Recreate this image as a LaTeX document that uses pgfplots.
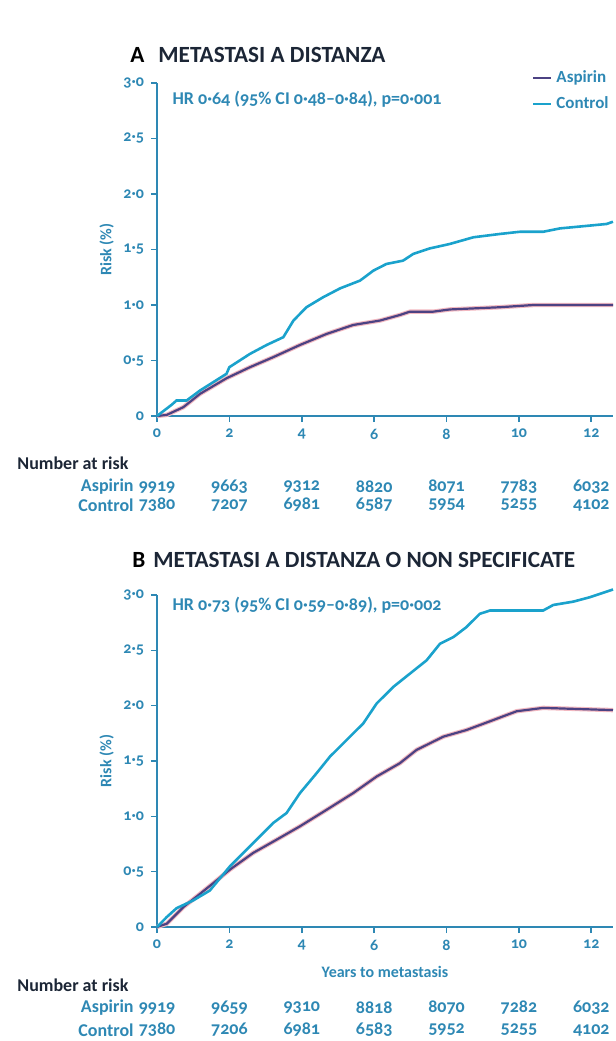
\documentclass[border=0pt]{standalone}
\usepackage{fontspec}
\setmainfont{Carlito}[Numbers=OldStyle]
\usepackage{pgfplots}
\pgfplotsset{compat=1.18}
\definecolor{axc}{HTML}{2E88B4}
\definecolor{ctrl}{HTML}{1AA2CC}
\definecolor{asp}{HTML}{4C4283}
\definecolor{halo}{HTML}{F2B8C0}
\definecolor{ttl}{HTML}{1C2636}

\pgfplotstableread{
t v
0 0
0.27 0.01
0.73 0.08
1.19 0.20
1.92 0.34
2.57 0.44
3.21 0.53
3.95 0.64
4.69 0.74
5.42 0.82
6.16 0.86
6.71 0.91
6.99 0.94
7.63 0.94
8.09 0.96
9.47 0.98
10.4 1.00
12.6 1.00
}\aspA
\pgfplotstableread{
t v
0 0
0.40 0.10
0.54 0.14
0.82 0.14
1.19 0.23
1.92 0.38
2.00 0.44
2.57 0.56
3.03 0.64
3.49 0.71
3.77 0.86
4.13 0.98
4.59 1.07
5.06 1.15
5.61 1.22
5.98 1.31
6.34 1.37
6.80 1.40
7.08 1.46
7.54 1.51
8.09 1.55
8.74 1.61
9.47 1.64
10.03 1.66
10.67 1.66
11.13 1.69
11.78 1.71
12.42 1.73
12.6 1.75
}\ctrlA
\pgfplotstableread{
t v
0 0
0.27 0.03
0.73 0.18
1.19 0.30
2.02 0.52
2.66 0.67
3.31 0.79
3.95 0.91
4.69 1.06
5.42 1.21
6.07 1.36
6.71 1.48
7.17 1.60
7.91 1.72
8.55 1.78
9.29 1.87
9.94 1.95
10.67 1.98
12.6 1.96
}\aspB
\pgfplotstableread{
t v
0 0
0.27 0.09
0.54 0.17
1.00 0.24
1.46 0.33
2.02 0.55
2.57 0.73
3.21 0.94
3.58 1.03
3.95 1.21
4.41 1.39
4.78 1.54
5.24 1.69
5.70 1.84
6.07 2.02
6.53 2.17
6.99 2.29
7.45 2.41
7.82 2.56
8.19 2.62
8.55 2.71
8.92 2.83
9.20 2.86
10.67 2.86
10.95 2.91
11.50 2.94
11.96 2.98
12.6 3.05
}\ctrlB

\pgfplotsset{km/.style={
  scale only axis, width=228pt, xmin=0, xmax=12.6, ymin=0, ymax=3,
  axis x line*=bottom, axis y line*=left,
  axis line style={axc, line width=0.9pt},
  xtick={0,2,...,12}, ytick={0,0.5,1,1.5,2,2.5,3},
  yticklabels={0,0·5,1·0,1·5,2·0,2·5,3·0},
  tick style={axc, line width=0.8pt}, tick align=outside,
  major tick length=3pt,
  /pgf/number format/assume math mode=true,
  ticklabel style={font=\bfseries\fontsize{8}{9}\selectfont, text=axc},
  ylabel={Risk (\%)},
  ylabel style={font=\bfseries\fontsize{8}{9}\selectfont, text=axc, yshift=-2pt},
  xlabel style={font=\bfseries\fontsize{8}{9}\selectfont, text=axc, yshift=-1pt},
  clip=false,
  legend cell align=left,
  legend image code/.code={\draw[#1] (0pt,0pt) -- (9pt,0pt);},
}}
\tikzset{nar/.style={font=\bfseries\fontsize{9}{10}\selectfont, text=axc}}

\begin{document}
\begin{tikzpicture}
\path[use as bounding box] (0,0) rectangle (308pt,-520.5pt);

% Panel A
\node[anchor=west, inner sep=0pt, font=\bfseries\fontsize{11.6}{13}\selectfont, text=ttl] at (65pt,-27.5pt) {\textcolor{black}{A}\hspace{7pt}METASTASI A DISTANZA};
\begin{axis}[km, at={(78.5pt,-208pt)}, anchor=south west, height=166.5pt,
  legend style={draw=none, fill=none, at={(rel axis cs:1.0,1.05)}, anchor=north east,
    font=\bfseries\fontsize{8.5}{9.5}\selectfont, text=axc, row sep=1.5pt, inner sep=0pt}]
\addplot[halo, line width=2.2pt, forget plot] table[x=t,y=v]{\aspA};
\addplot[asp, line width=1.1pt] table[x=t,y=v]{\aspA};
\addplot[ctrl, line width=1.3pt] table[x=t,y=v]{\ctrlA};
\legend{Aspirin,Control}
\node[anchor=west, inner sep=0pt, font=\bfseries\fontsize{9}{10}\selectfont, text=axc] at (axis cs:0.42,2.85) {HR 0·64 (95\% CI 0·48–0·84), p=0·001};
\end{axis}
\foreach \x/\a/\c in {78.5/9919/7380,114.69/9663/7207,150.88/9312/6981,187.07/8820/6587,223.26/8071/5954,259.45/7783/5255,295.64/6032/4102}{
  \node[nar] at (\x pt,-243.5pt) {\a};
  \node[nar] at (\x pt,-252.5pt) {\c};
}
\node[anchor=west, inner sep=0pt, font=\bfseries\fontsize{9}{10}\selectfont, text=ttl] at (8.5pt,-231.5pt) {Number at risk};
\node[anchor=east, inner sep=0pt, nar] at (67pt,-243.5pt) {Aspirin};
\node[anchor=east, inner sep=0pt, nar] at (67pt,-252.5pt) {Control};

% Panel B
\node[anchor=west, inner sep=0pt, font=\bfseries\fontsize{11.6}{13}\selectfont, text=ttl] at (66pt,-280pt) {\textcolor{black}{B}\hspace{4pt}METASTASI A DISTANZA O NON SPECIFICATE};
\begin{axis}[km, at={(78.5pt,-463.5pt)}, anchor=south west, height=166pt,
  xlabel={Years to metastasis}]
\addplot[halo, line width=2.2pt, forget plot] table[x=t,y=v]{\aspB};
\addplot[asp, line width=1.1pt] table[x=t,y=v]{\aspB};
\addplot[ctrl, line width=1.3pt] table[x=t,y=v]{\ctrlB};
\node[anchor=west, inner sep=0pt, font=\bfseries\fontsize{9}{10}\selectfont, text=axc] at (axis cs:0.42,2.91) {HR 0·73 (95\% CI 0·59–0·89), p=0·002};
\end{axis}
\foreach \x/\a/\c in {78.5/9919/7380,114.69/9659/7206,150.88/9310/6981,187.07/8818/6583,223.26/8070/5952,259.45/7282/5255,295.64/6032/4102}{
  \node[nar] at (\x pt,-504pt) {\a};
  \node[nar] at (\x pt,-515pt) {\c};
}
\node[anchor=west, inner sep=0pt, font=\bfseries\fontsize{9}{10}\selectfont, text=ttl] at (8.5pt,-492.5pt) {Number at risk};
\node[anchor=east, inner sep=0pt, nar] at (67pt,-504pt) {Aspirin};
\node[anchor=east, inner sep=0pt, nar] at (67pt,-515pt) {Control};
\end{tikzpicture}
\end{document}
